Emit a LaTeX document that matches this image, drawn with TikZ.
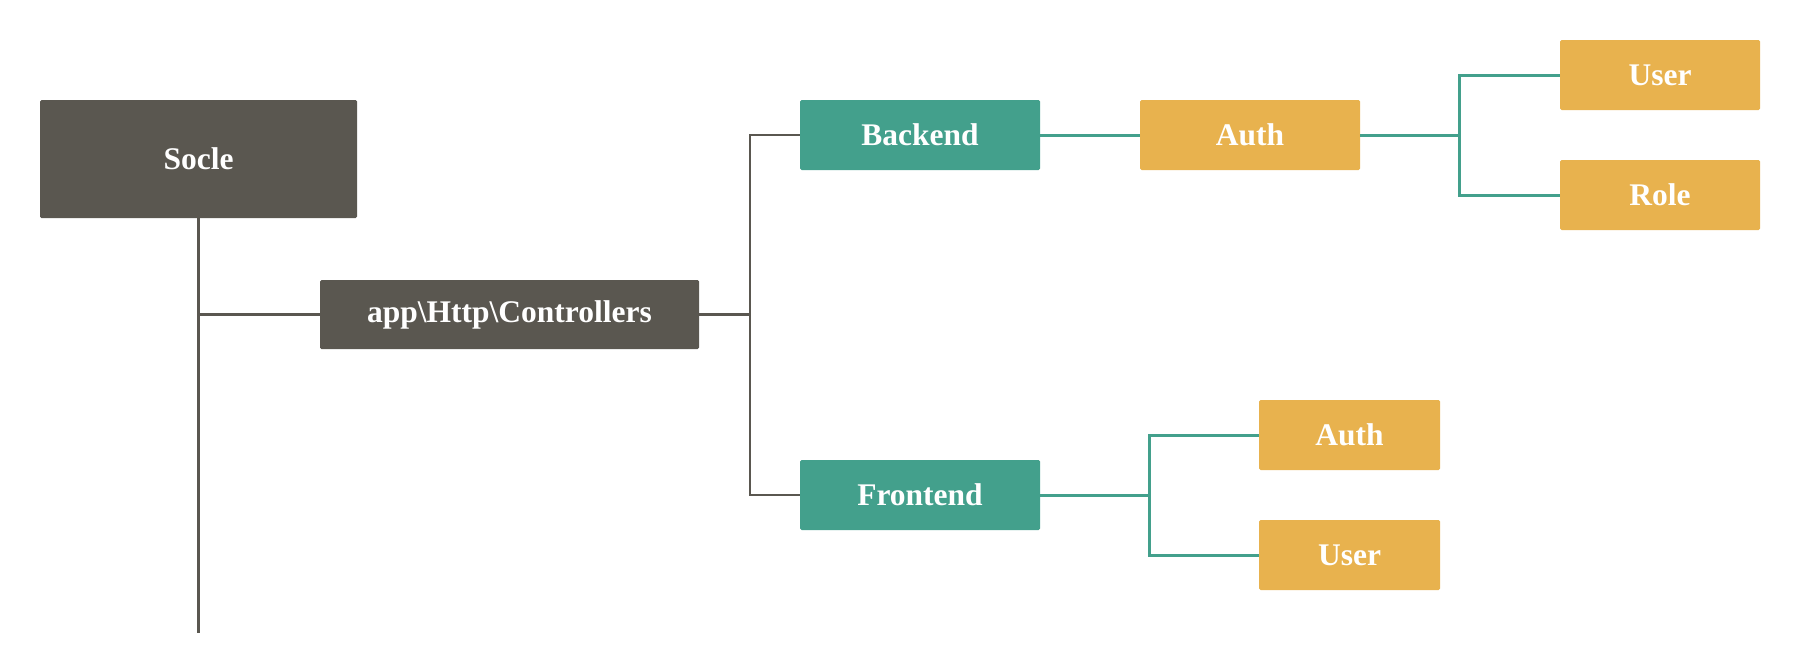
\documentclass[tikz,border=0pt]{standalone}
\usepackage{fontspec}
\setmainfont{Liberation Serif}
\definecolor{darkbox}{HTML}{5A5750}
\definecolor{tealbox}{HTML}{43A08C}
\definecolor{goldbox}{HTML}{E8B24E}
\begin{document}
\begin{tikzpicture}[x=1pt,y=-1pt,
  box/.style={rectangle, rounded corners=1.5pt, inner sep=0pt, text=white,
    font=\fontsize{31.5}{36}\selectfont\bfseries, minimum height=70pt},
  darkb/.style={box, fill=darkbox},
  tealb/.style={box, fill=tealbox},
  goldb/.style={box, fill=goldbox},
  darkline/.style={draw=darkbox, line width=2.2pt},
  tealline/.style={draw=tealbox, line width=3pt}]
\useasboundingbox (0,0) rectangle (1800,672);
\node[darkb, minimum width=317pt, minimum height=118pt] (socle) at (198.5,159) {Socle};
\node[darkb, minimum width=379pt, minimum height=69pt] (ctrl) at (509.5,314.5) {app\textbackslash Http\textbackslash Controllers};
\node[tealb, minimum width=240pt] (backend) at (920,135) {Backend};
\node[tealb, minimum width=240pt] (frontend) at (920,495) {Frontend};
\node[goldb, minimum width=220pt] (bauth) at (1250,135) {Auth};
\node[goldb, minimum width=200pt] (buser) at (1660,75) {User};
\node[goldb, minimum width=200pt] (brole) at (1660,195) {Role};
\node[goldb, minimum width=181pt] (fauth) at (1349.5,435) {Auth};
\node[goldb, minimum width=181pt] (fuser) at (1349.5,555) {User};
\coordinate (socleEnd) at (198.5,633);
\coordinate (cj) at (750,314.5);
\coordinate (bj) at (1459,135);
\coordinate (fj) at (1149,495);
% Socle trunk
\draw[darkline] (socle.south) -- (socleEnd);
\draw[darkline] (ctrl.west) -- (ctrl.west -| socle.south);
% Controllers fork
\draw[darkline] (ctrl.east) -- (cj);
\draw[darkline, line join=miter] (backend.west) -- (cj |- backend.west) -- (cj |- frontend.west) -- (frontend.west);
% Backend branch
\draw[tealline] (backend.east) -- (bauth.west);
\draw[tealline] (bauth.east) -- (bj);
\draw[tealline, line join=miter] (buser.west) -- (bj |- buser.west) -- (bj |- brole.west) -- (brole.west);
% Frontend branch
\draw[tealline] (frontend.east) -- (fj);
\draw[tealline, line join=miter] (fauth.west) -- (fj |- fauth.west) -- (fj |- fuser.west) -- (fuser.west);
\end{tikzpicture}
\end{document}
